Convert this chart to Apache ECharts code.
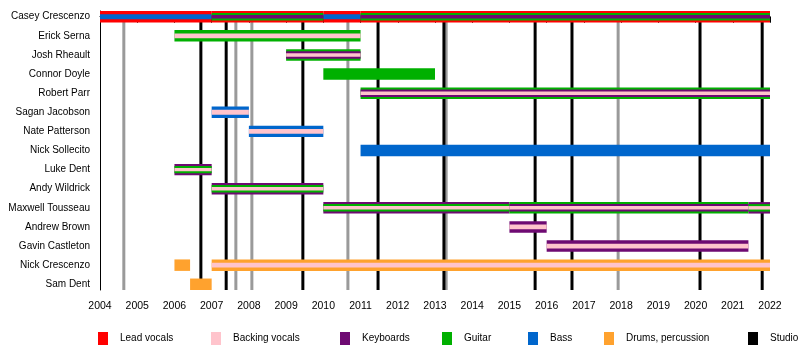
<!DOCTYPE html>
<html><head><meta charset="utf-8">
<script src="https://cdn.jsdelivr.net/npm/echarts@6.0.0/dist/echarts.min.js"></script>
<style>html,body{margin:0;padding:0;background:#fff}#c{width:800px;height:355px}</style>
</head><body><div id="c"></div>
<script>
// ---------- DATA ----------
const members = ['Casey Crescenzo','Erick Serna','Josh Rheault','Connor Doyle','Robert Parr','Sagan Jacobson','Nate Patterson','Nick Sollecito','Luke Dent','Andy Wildrick','Maxwell Tousseau','Andrew Brown','Gavin Castleton','Nick Crescenzo','Sam Dent'];
const roleNames = ['Lead vocals','Backing vocals','Keyboards','Guitar','Bass','Drums, percussion'];
// [member, start, end, roles from outer to inner]
const stints = [
  ['Casey Crescenzo', 2004, 2007, ['Lead vocals','Bass']],
  ['Casey Crescenzo', 2007, 2010, ['Lead vocals','Guitar','Keyboards']],
  ['Casey Crescenzo', 2010, 2011, ['Lead vocals','Bass']],
  ['Casey Crescenzo', 2011, 2022, ['Lead vocals','Guitar','Keyboards']],
  ['Erick Serna', 2006, 2011, ['Guitar','Backing vocals']],
  ['Josh Rheault', 2009, 2011, ['Guitar','Keyboards','Backing vocals']],
  ['Connor Doyle', 2010, 2013, ['Guitar']],
  ['Robert Parr', 2011, 2022, ['Guitar','Keyboards','Backing vocals']],
  ['Sagan Jacobson', 2007, 2008, ['Bass','Backing vocals']],
  ['Nate Patterson', 2008, 2010, ['Bass','Backing vocals']],
  ['Nick Sollecito', 2011, 2022, ['Bass']],
  ['Luke Dent', 2006, 2007, ['Keyboards','Guitar','Backing vocals']],
  ['Andy Wildrick', 2007, 2010, ['Keyboards','Guitar','Backing vocals']],
  ['Maxwell Tousseau', 2010, 2015, ['Keyboards','Guitar','Backing vocals']],
  ['Maxwell Tousseau', 2015, 2021.42, ['Guitar','Keyboards','Backing vocals']],
  ['Maxwell Tousseau', 2021.42, 2022, ['Keyboards','Guitar','Backing vocals']],
  ['Andrew Brown', 2015, 2016, ['Keyboards','Backing vocals']],
  ['Gavin Castleton', 2016, 2021.42, ['Keyboards','Backing vocals']],
  ['Nick Crescenzo', 2006, 2006.42, ['Drums, percussion']],
  ['Nick Crescenzo', 2007, 2022, ['Drums, percussion','Backing vocals']],
  ['Sam Dent', 2006.42, 2007, ['Drums, percussion']]
];
const studioAlbums = [2006.71, 2007.39, 2009.45, 2011.47, 2013.24, 2015.69, 2016.68, 2020.12, 2021.79];
const otherReleases = [2004.64, 2007.65, 2008.08, 2010.66, 2013.30, 2017.92];
const yearStart = 2004, yearEnd = 2022;

// ---------- STYLE ----------
const roleColors = {
  'Lead vocals': '#FF0000',
  'Backing vocals': '#FFC4CC',
  'Keyboards': '#6E0A72',
  'Guitar': '#00B000',
  'Bass': '#0066CC',
  'Drums, percussion': '#FFA22E'
};
const studioColor = '#000000';
const otherColor = '#9A9A9A';
const BAR = 0.6;          // bar thickness in row units
const WIDTHS = {1: [1], 2: [1, 0.42], 3: [1, 0.65, 0.3]};
const YMIN = -BAR / 2, YMAX = members.length - 1 + BAR / 2;

// build flat layer data: [row, start, end, level, nRoles, roleIndex]
const layerData = [];
stints.forEach(s => {
  const row = members.indexOf(s[0]);
  s[3].forEach((r, lvl) => layerData.push([row, s[1], s[2], lvl, s[3].length, roleNames.indexOf(r)]));
});

const chart = echarts.init(document.getElementById('c'), null, {renderer: 'canvas'});

function barItem(params, api) {
  const row = api.value(0), s = api.value(1), e = api.value(2);
  const lvl = api.value(3), n = api.value(4), ri = api.value(5);
  const p0 = api.coord([s, row]), p1 = api.coord([e, row]);
  const unit = api.size([0, 1])[1];
  const h = BAR * unit * WIDTHS[n][lvl];
  return {type: 'rect', z2: lvl,
    shape: {x: p0[0], y: p0[1] - h / 2, width: p1[0] - p0[0], height: h},
    style: {fill: roleColors[roleNames[ri]]}};
}
function lineItem(color) {
  return function (params, api) {
    const a = api.coord([api.value(0), YMIN]), b = api.coord([api.value(0), YMAX]);
    return {type: 'line', shape: {x1: a[0], y1: a[1], x2: b[0], y2: b[1]},
      style: {stroke: color, lineWidth: 3}};
  };
}

const series = [];
series.push({name: 'Other', type: 'custom', renderItem: lineItem(otherColor), z: 1,
  data: otherReleases.map(v => [v]), encode: {x: 0}, silent: true});
series.push({name: 'Studio', type: 'custom', renderItem: lineItem(studioColor), z: 1,
  itemStyle: {color: studioColor},
  data: studioAlbums.map(v => [v]), encode: {x: 0}, silent: true});
series.push({name: 'bars', type: 'custom', renderItem: barItem, z: 3,
  data: layerData, encode: {x: [1, 2], y: 0}, silent: true});
roleNames.forEach(r => series.push({name: r, type: 'custom', data: [], renderItem: () => null,
  itemStyle: {color: roleColors[r]}}));

const legendNames = roleNames.concat(['Studio']);
const legendLeft = [98, 211, 340, 442, 528, 604, 748];
const legends = legendNames.map((n, i) => ({
  data: [{name: n, icon: 'rect'}], left: legendLeft[i], top: 332, padding: 0,
  itemWidth: 10, itemHeight: 13, selectedMode: false,
  textStyle: {fontFamily: 'Liberation Sans', fontSize: 10, color: '#000', padding: [0, 0, 0, 7]}
}));

chart.setOption({
  animation: false,
  backgroundColor: '#fff',
  grid: {left: 100, right: 30, top: 11, bottom: 65, containLabel: false},
  legend: legends,
  xAxis: {type: 'value', min: yearStart, max: yearEnd, interval: 1,
    axisLine: {lineStyle: {color: '#000', width: 1}},
    axisTick: {length: 6, lineStyle: {color: '#000'}},
    axisLabel: {fontFamily: 'Liberation Sans', fontSize: 10.5, color: '#000', margin: 11,
      formatter: v => String(v)},
    splitLine: {show: false}},
  yAxis: {type: 'value', inverse: true, min: YMIN, max: YMAX,
    axisLine: {show: true, lineStyle: {color: '#000', width: 1}},
    axisTick: {show: false},
    splitLine: {show: false},
    axisLabel: {customValues: members.map((m, i) => i), formatter: v => members[Math.round(v)],
      fontFamily: 'Liberation Sans', fontSize: 10, color: '#000', margin: 10}},
  series: series
});
</script></body></html>
